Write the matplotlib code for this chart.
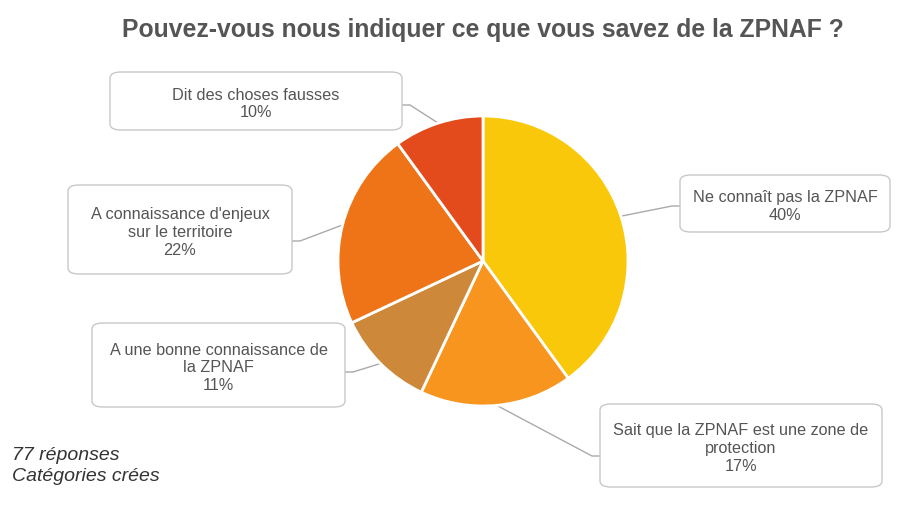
import numpy as np
import matplotlib.pyplot as plt
from matplotlib.patches import FancyBboxPatch

# data
categories = ["Ne connaît pas la ZPNAF",
              "Sait que la ZPNAF est une zone de\nprotection",
              "A une bonne connaissance de\nla ZPNAF",
              "A connaissance d'enjeux\nsur le territoire",
              "Dit des choses fausses"]
values = [40, 17, 11, 22, 10]
colors = ["#FAC80A", "#F7951E", "#CD883A", "#EE7417", "#E34A1C"]

title = "Pouvez-vous nous indiquer ce que vous savez de la ZPNAF ?"
footer = "77 réponses\nCatégories crées"

# label boxes (left, top, right, bottom) in image pixels + y where the leader attaches
boxes = [(680, 176, 890, 233),
         (600, 405, 882, 488),
         (92, 324, 345, 408),
         (68, 186, 292, 275),
         (110, 73, 402, 131)]
attach_y = [207, 457, 373, 242, 106]

W, H = 907, 506
plt.rcParams['font.family'] = ['Liberation Sans', 'DejaVu Sans']
fig = plt.figure(figsize=(W / 100, H / 100), dpi=100)
txt = "#555555"

cx, cy, r = 483, 262, 145
ax = fig.add_axes([(cx - r) / W, (H - cy - r) / H, 2 * r / W, 2 * r / H])
wedges, _ = ax.pie(values, colors=colors, startangle=90, counterclock=False,
                   wedgeprops=dict(edgecolor="white", linewidth=2))
ax.set_aspect("equal")
ax.set_xlim(-1, 1)
ax.set_ylim(-1, 1)

fig.text(482.5 / W, 1 - 30 / H, title, ha="center", va="center",
         fontsize=17.8, fontweight="bold", color=txt)

for w, cat, v, (l, t, rr, b), ay in zip(wedges, categories, values, boxes, attach_y):
    # box
    p = FancyBboxPatch((l / W, 1 - b / H), (rr - l) / W, (b - t) / H,
                       boxstyle="round,pad=0,rounding_size=0.012",
                       transform=fig.transFigure, facecolor="white",
                       edgecolor="#C8C8C8", linewidth=1, zorder=1)
    fig.patches.append(p)
    fig.text((l + rr) / 2 / W, 1 - ((t + b) / 2 + 2) / H, f"{cat}\n{v}%",
             ha="center", va="center", fontsize=11.7, color=txt,
             linespacing=1.22, zorder=2)
    # connector: short horizontal stub then diagonal to the wedge
    ang = np.deg2rad((w.theta1 + w.theta2) / 2)
    px = cx + r * np.cos(ang)
    py = cy - r * np.sin(ang)
    bx = l if px < l else rr
    sx = bx - 8 if px < l else bx + 8
    fig.add_artist(plt.Line2D([bx / W, sx / W, px / W],
                              [1 - ay / H, 1 - ay / H, 1 - py / H],
                              transform=fig.transFigure, color="#AAAAAA",
                              linewidth=1, zorder=0))

fig.text(12 / W, 1 - 466 / H, footer, ha="left", va="center", fontsize=14,
         style="italic", color="#333333", linespacing=1.38)

fig.savefig("out.png", dpi=100, facecolor="white")
